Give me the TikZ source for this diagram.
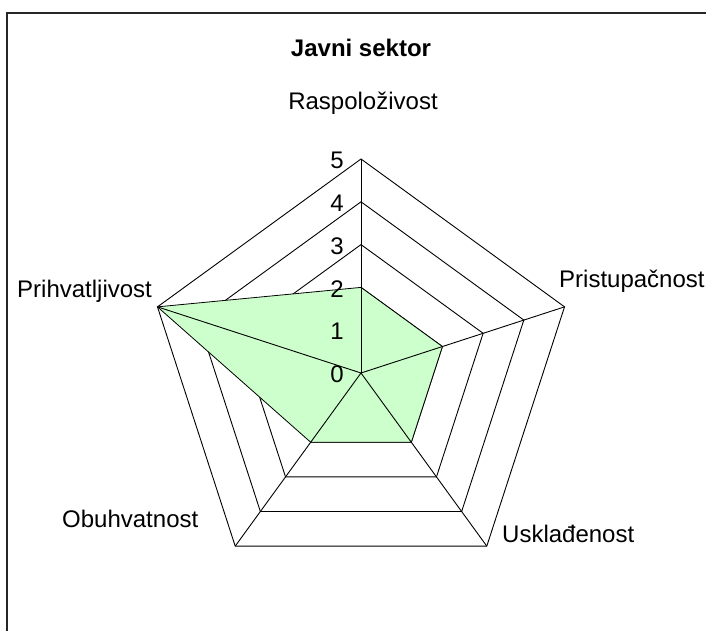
\documentclass[tikz,border=0pt]{standalone}
\usepackage{fontspec}
\setmainfont{Liberation Sans}
\definecolor{datagreen}{HTML}{CCFFCC}
\begin{document}
\begin{tikzpicture}[x=1pt,y=1pt,
  gridline/.style={draw=black, line width=0.9pt},
  spoke/.style={draw=black, line width=0.9pt},
  series/.style={fill=datagreen, draw=black, line width=0.8pt, line join=round},
  frameline/.style={draw=black!85, line width=2pt},
  lbl/.style={inner sep=0pt, font=\fontsize{24}{28}\selectfont},
  tick/.style={inner sep=0pt, anchor=east, font=\fontsize{24}{28}\selectfont},
  ttl/.style={inner sep=0pt, anchor=base, font=\fontsize{24}{28}\selectfont\bfseries}]
\useasboundingbox (0,0) rectangle (706,631);
\def\u{42.8}
\coordinate (C) at (361,258);
\begin{scope}[shift={(C)}]
  % axis ends
  \coordinate (aR) at (90:5*\u);
  \coordinate (aP) at (18:5*\u);
  \coordinate (aU) at (-54:5*\u);
  \coordinate (aO) at (-126:5*\u);
  \coordinate (aH) at (162:5*\u);
  % grid pentagons
  \foreach \k in {1,...,5}{
    \draw[gridline] (90:\k*\u) -- (18:\k*\u) -- (-54:\k*\u) -- (-126:\k*\u) -- (162:\k*\u) -- cycle;
  }
  % data
  \coordinate (dR) at (90:2*\u);
  \coordinate (dP) at (18:2*\u);
  \coordinate (dU) at (-54:2*\u);
  \coordinate (dO) at (-126:2*\u);
  \coordinate (dH) at (162:5*\u);
  \path[series] (dR) -- (dP) -- (dU) -- (dO) -- (dH) -- cycle;
  % spokes
  \foreach \a in {aR,aP,aU,aO,aH}{ \draw[spoke] (0,0) -- (\a); }
  % tick labels
  \foreach \k in {0,...,5}{
    \node[tick] (t\k) at (-17,\k*\u-1.5) {\k};
  }
\end{scope}
\node[ttl] (title) at (361,574) {Javni sektor};
\node[lbl, anchor=base] (lR) at (363,521) {Raspoloživost};
\node[lbl, anchor=base west] (lP) at (559,343) {Pristupačnost};
\node[lbl, anchor=base west] (lH) at (17,333) {Prihvatljivost};
\node[lbl, anchor=base west] (lO) at (62,103) {Obuhvatnost};
\node[lbl, anchor=base west] (lU) at (502,88) {Usklađenost};
\draw[frameline] (7,0) -- (7,618) -- (706,618);
\end{tikzpicture}
\end{document}
